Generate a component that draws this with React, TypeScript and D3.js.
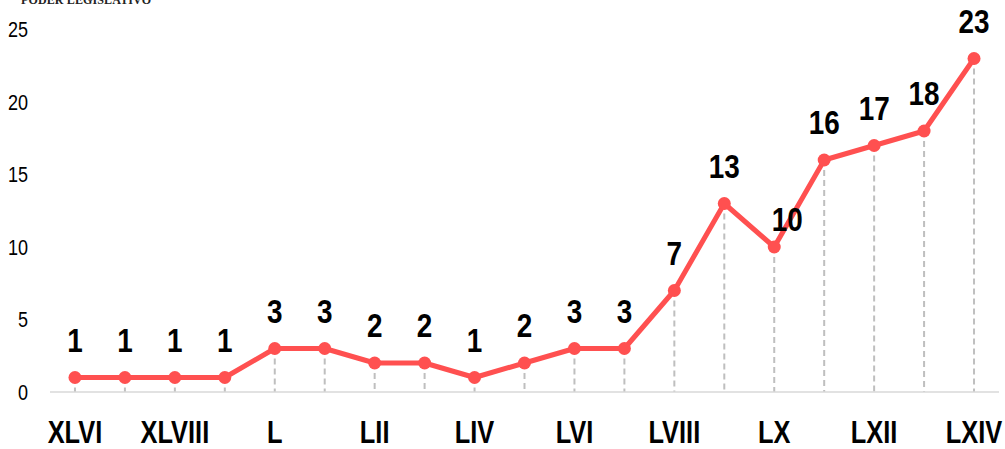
import React, { useRef, useEffect } from "react";
import * as d3 from "d3";

// legislaturas (XLVI .. LXIV) and values
const legislaturas = [
  "XLVI", "XLVII", "XLVIII", "XLIX", "L", "LI", "LII", "LIII", "LIV", "LV",
  "LVI", "LVII", "LVIII", "LIX", "LX", "LXI", "LXII", "LXIII", "LXIV",
];
const valores = [1, 1, 1, 1, 3, 3, 2, 2, 1, 2, 3, 3, 7, 13, 10, 16, 17, 18, 23];
const yTicks = [0, 5, 10, 15, 20, 25];
// labels shown on the axis (every other one)
const xTickLabels = ["XLVI", "XLVIII", "L", "LII", "LIV", "LVI", "LVIII", "LX", "LXII", "LXIV"];

// Arial Narrow look-alike: Liberation Sans squeezed horizontally
const FONT = "'Liberation Sans', Arial, sans-serif";
const NARROW = 0.82;

export default function App() {
  const svgRef = useRef(null);

  useEffect(() => {
    const svg = d3.select(svgRef.current);
    svg.selectAll("*").remove();

    const width = 1005;
    const height = 449;
    const margin = { top: 29.5, right: 6, bottom: 57, left: 50 };

    const x = d3
      .scaleBand()
      .domain(legislaturas)
      .range([margin.left, width - margin.right]);
    const cx = (d) => x(d) + x.bandwidth() / 2;

    const y = d3
      .scaleLinear()
      .domain([0, 25])
      .range([height - margin.bottom, margin.top]);

    // header text, cut at top
    svg
      .append("text")
      .attr("x", 21)
      .attr("y", 4)
      .attr("font-family", "'Liberation Serif', serif")
      .attr("font-weight", "bold")
      .attr("font-size", 12)
      .attr("textLength", 130)
      .attr("fill", "#222")
      .text("PODER LEGISLATIVO");

    // y tick labels
    svg
      .append("g")
      .selectAll("text")
      .data(yTicks)
      .enter()
      .append("text")
      .attr("transform", (d) => `translate(28,${y(d)}) scale(${NARROW},1)`)
      .attr("dy", "0.36em")
      .attr("text-anchor", "end")
      .attr("font-family", FONT)
      .attr("font-size", 22)
      .attr("fill", "#000")
      .text((d) => d);

    // dashed drop lines
    svg
      .append("g")
      .selectAll("line")
      .data(legislaturas)
      .enter()
      .append("line")
      .attr("x1", (d) => cx(d))
      .attr("x2", (d) => cx(d))
      .attr("y1", (d, i) => y(valores[i]))
      .attr("y2", y(0))
      .attr("stroke", "#bfbfbf")
      .attr("stroke-width", 2)
      .attr("stroke-dasharray", "6,4");

    // x axis line
    svg
      .append("line")
      .attr("x1", margin.left)
      .attr("x2", width - margin.right)
      .attr("y1", y(0))
      .attr("y2", y(0))
      .attr("stroke", "#d9d9d9")
      .attr("stroke-width", 1.5);

    // x labels
    svg
      .append("g")
      .selectAll("text")
      .data(xTickLabels)
      .enter()
      .append("text")
      .attr("transform", (d) => `translate(${cx(d)},443) scale(${NARROW},1)`)
      .attr("text-anchor", "middle")
      .attr("font-family", FONT)
      .attr("font-weight", "bold")
      .attr("font-size", 31)
      .attr("fill", "#000")
      .text((d) => d);

    // line
    const line = d3
      .line()
      .x((d, i) => cx(legislaturas[i]))
      .y((d) => y(d));

    svg
      .append("path")
      .datum(valores)
      .attr("d", line)
      .attr("fill", "none")
      .attr("stroke", "#ff5050")
      .attr("stroke-width", 5)
      .attr("stroke-linejoin", "round");

    svg
      .append("g")
      .selectAll("circle")
      .data(valores)
      .enter()
      .append("circle")
      .attr("cx", (d, i) => cx(legislaturas[i]))
      .attr("cy", (d) => y(d))
      .attr("r", 6.5)
      .attr("fill", "#ff5050");

    // data labels (the 10 sits off to the right)
    svg
      .append("g")
      .selectAll("text")
      .data(valores)
      .enter()
      .append("text")
      .attr("transform", (d, i) => {
        const lx = cx(legislaturas[i]) + (legislaturas[i] === "LX" ? 13 : 0);
        const ly = y(d) - (legislaturas[i] === "LX" ? 16 : 26);
        return `translate(${lx},${ly}) scale(${NARROW},1)`;
      })
      .attr("text-anchor", "middle")
      .attr("font-family", FONT)
      .attr("font-weight", "bold")
      .attr("font-size", 34)
      .attr("fill", "#000")
      .text((d) => d);
  }, []);

  return (
    <svg
      ref={svgRef}
      width={1005}
      height={449}
      style={{ position: "absolute", left: 0, top: 0, background: "#fff" }}
    ></svg>
  );
}
